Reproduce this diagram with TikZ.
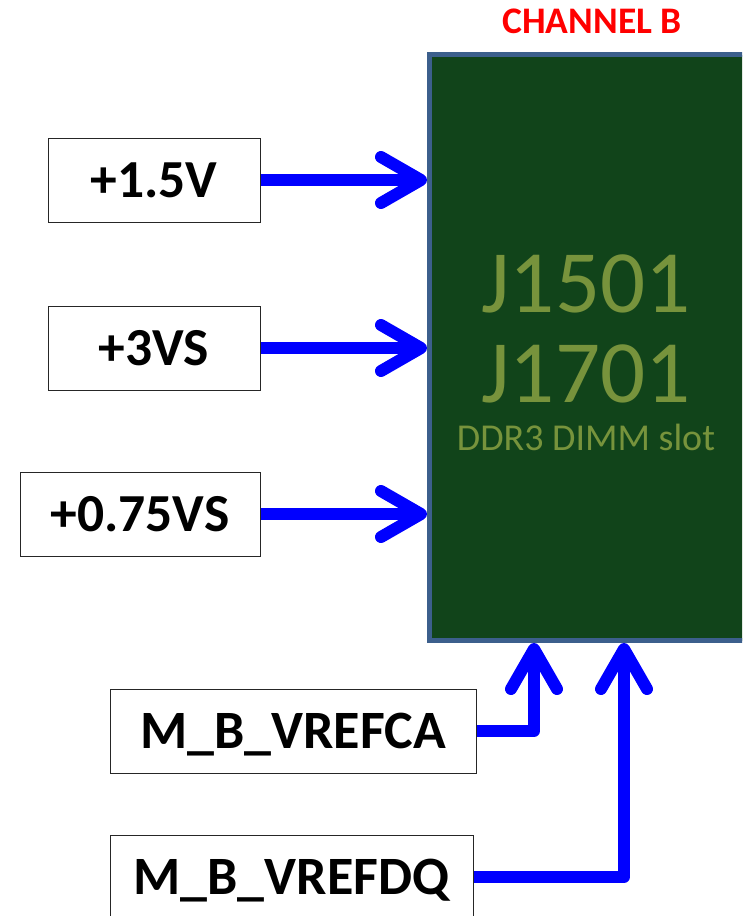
\documentclass[tikz,border=0pt]{standalone}
\usepackage{fontspec}
\setmainfont{Carlito}
\usetikzlibrary{arrows.meta}
\definecolor{dimmgreen}{RGB}{17,68,26}
\definecolor{dimmtext}{RGB}{119,147,60}
\definecolor{dimmborder}{RGB}{60,95,140}
\begin{document}
\begin{tikzpicture}[x=1pt,y=-1pt,
  lbl/.style={draw=black!85, line width=1pt, fill=white, inner sep=0pt,
    font=\bfseries\fontsize{53.5}{53.5}\selectfont, text height=34pt, text depth=0pt,
    minimum height=84pt},
  lblbig/.style={lbl, font=\bfseries\fontsize{54}{54}\selectfont, text height=35pt},
  wire/.style={draw=blue, line width=12pt, line join=round,
    -{Straight Barb[length=40pt, width=46pt, round]}},
  dimmtxt/.style={anchor=base, text=dimmtext}]
\useasboundingbox (0,0) rectangle (742,916);
\clip (0,0) rectangle (742,916);

\node[draw=dimmborder, fill=dimmgreen, line width=5pt, inner sep=0pt,
  minimum width=343pt, minimum height=586pt, anchor=north west] (dimm) at (427,52) {};

\node[anchor=base, text=red, font=\bfseries\fontsize{37.5}{37.5}\selectfont] (chan) at (592,33) {CHANNEL B};
\node[dimmtxt, font=\fontsize{89}{89}\selectfont] (j1) at (586,312) {J1501};
\node[dimmtxt, font=\fontsize{89}{89}\selectfont] (j2) at (586,402) {J1701};
\node[dimmtxt, font=\fontsize{38}{38}\selectfont] (ddr) at (586,450) {DDR3 DIMM slot};

\node[lbl, minimum width=212pt] (v15) at (154,180) {+1.5V};
\node[lbl, minimum width=212pt] (v3) at (154,348) {+3VS};
\node[lbl, minimum width=240pt] (v075) at (140,514) {+0.75VS};
\node[lblbig, minimum width=366pt] (ca) at (293,731) {M\_B\_VREFCA};
\node[lblbig, minimum width=363pt] (dq) at (291.5,877) {M\_B\_VREFDQ};

\coordinate (pca) at (534,643);
\coordinate (pdq) at (624,643);

\draw[wire] (v15.east) -- (v15.east -| dimm.west);
\draw[wire] (v3.east) -- (v3.east -| dimm.west);
\draw[wire] (v075.east) -- (v075.east -| dimm.west);
\draw[wire] (ca.east) -| (pca);
\draw[wire] (dq.east) -| (pdq);
\end{tikzpicture}
\end{document}
